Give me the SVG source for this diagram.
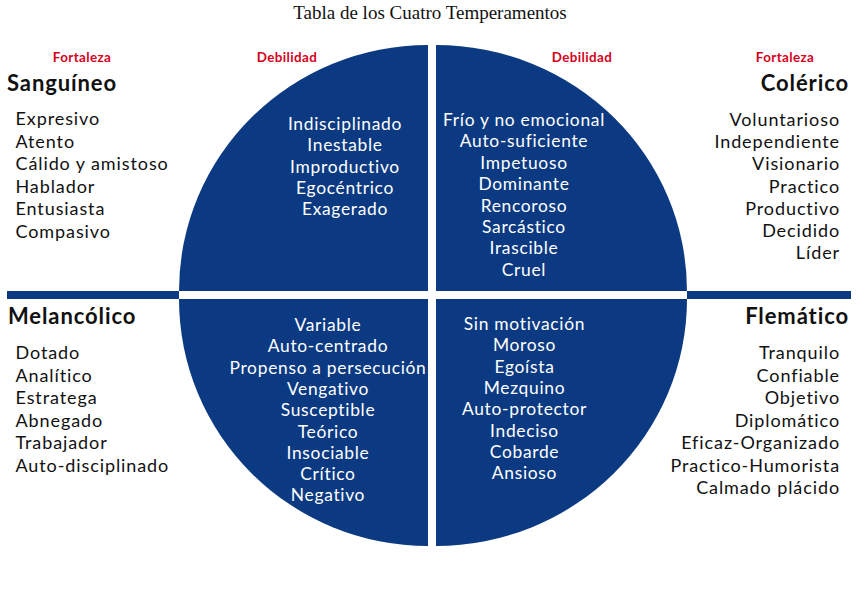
<svg xmlns="http://www.w3.org/2000/svg" width="866" height="593" viewBox="0 0 866 593">
<style>
.title{font-family:"Liberation Serif","Times New Roman",serif;font-size:19px;fill:#111;text-anchor:middle}
.lbl{font-family:Lato,"Open Sans",sans-serif;font-weight:bold;font-size:13.4px;letter-spacing:0.4px;fill:#d6001c;text-anchor:middle}
.head{font-family:Lato,"Open Sans",sans-serif;font-weight:bold;font-size:22px;letter-spacing:0.9px;fill:#111}
.item{font-family:Lato,"Open Sans",sans-serif;font-size:18px;letter-spacing:0.9px;fill:#111}
.w{font-family:Lato,"Open Sans",sans-serif;font-size:17.4px;letter-spacing:0.7px;fill:#fff;text-anchor:middle}
.q{fill:#0b3a82}
.r{text-anchor:end}
</style>
<rect width="866" height="593" fill="#fff"/>
<text class="title" x="430" y="18.5">Tabla de los Cuatro Temperamentos</text>
<g id="bars">
<rect class="q" x="7" y="291" width="172" height="8"/>
<rect class="q" x="687" y="291" width="164" height="8"/>
</g>
<g id="labels">
<text class="lbl" x="82" y="61.5">Fortaleza</text>
<text class="lbl" x="287" y="61.5">Debilidad</text>
<text class="lbl" x="582" y="61.5">Debilidad</text>
<text class="lbl" x="785" y="61.5">Fortaleza</text>
</g>
<g id="sanguineo">
<path class="q" d="M428,291 L179,291 A249,246 0 0 1 428,45 Z"/>
<text class="head" x="7" y="90.5">Sanguíneo</text>
<text class="item" x="15.5" y="125">Expresivo</text>
<text class="item" x="15.5" y="147.5">Atento</text>
<text class="item" x="15.5" y="170">Cálido y amistoso</text>
<text class="item" x="15.5" y="192.5">Hablador</text>
<text class="item" x="15.5" y="215">Entusiasta</text>
<text class="item" x="15.5" y="237.5">Compasivo</text>
<text class="w" x="345" y="130">Indisciplinado</text>
<text class="w" x="345" y="151.3">Inestable</text>
<text class="w" x="345" y="172.6">Improductivo</text>
<text class="w" x="345" y="193.9">Egocéntrico</text>
<text class="w" x="345" y="215.2">Exagerado</text>
</g>
<g id="colerico">
<path class="q" d="M436,291 L436,45 A251,246 0 0 1 687,291 Z"/>
<text class="head r" x="849" y="90.5">Colérico</text>
<text class="item r" x="840" y="126">Voluntarioso</text>
<text class="item r" x="840" y="148.2">Independiente</text>
<text class="item r" x="840" y="170.4">Visionario</text>
<text class="item r" x="840" y="192.6">Practico</text>
<text class="item r" x="840" y="214.8">Productivo</text>
<text class="item r" x="840" y="237">Decidido</text>
<text class="item r" x="840" y="259.2">Líder</text>
<text class="w" x="524" y="126">Frío y no emocional</text>
<text class="w" x="524" y="147.4">Auto-suficiente</text>
<text class="w" x="524" y="168.8">Impetuoso</text>
<text class="w" x="524" y="190.2">Dominante</text>
<text class="w" x="524" y="211.6">Rencoroso</text>
<text class="w" x="524" y="233">Sarcástico</text>
<text class="w" x="524" y="254.4">Irascible</text>
<text class="w" x="524" y="275.8">Cruel</text>
</g>
<g id="melancolico">
<path class="q" d="M428,299 L428,546 A249,247 0 0 1 179,299 Z"/>
<text class="head" x="8" y="324.3">Melancólico</text>
<text class="item" x="15.5" y="359">Dotado</text>
<text class="item" x="15.5" y="381.5">Analítico</text>
<text class="item" x="15.5" y="404">Estratega</text>
<text class="item" x="15.5" y="426.5">Abnegado</text>
<text class="item" x="15.5" y="449">Trabajador</text>
<text class="item" x="15.5" y="471.5">Auto-disciplinado</text>
<text class="w" x="328" y="331">Variable</text>
<text class="w" x="328" y="352.3">Auto-centrado</text>
<text class="w" x="328" y="373.6">Propenso a persecución</text>
<text class="w" x="328" y="394.9">Vengativo</text>
<text class="w" x="328" y="416.2">Susceptible</text>
<text class="w" x="328" y="437.5">Teórico</text>
<text class="w" x="328" y="458.8">Insociable</text>
<text class="w" x="328" y="480.1">Crítico</text>
<text class="w" x="328" y="501.4">Negativo</text>
</g>
<g id="flematico">
<path class="q" d="M436,299 L687,299 A251,247 0 0 1 436,546 Z"/>
<text class="head r" x="849" y="324.3">Flemático</text>
<text class="item r" x="840" y="359">Tranquilo</text>
<text class="item r" x="840" y="381.5">Confiable</text>
<text class="item r" x="840" y="404">Objetivo</text>
<text class="item r" x="840" y="426.5">Diplomático</text>
<text class="item r" x="840" y="449">Eficaz-Organizado</text>
<text class="item r" x="840" y="471.5">Practico-Humorista</text>
<text class="item r" x="840" y="494">Calmado plácido</text>
<text class="w" x="524.5" y="330">Sin motivación</text>
<text class="w" x="524.5" y="351.3">Moroso</text>
<text class="w" x="524.5" y="372.6">Egoísta</text>
<text class="w" x="524.5" y="393.9">Mezquino</text>
<text class="w" x="524.5" y="415.2">Auto-protector</text>
<text class="w" x="524.5" y="436.5">Indeciso</text>
<text class="w" x="524.5" y="457.8">Cobarde</text>
<text class="w" x="524.5" y="479.1">Ansioso</text>
</g>
</svg>
